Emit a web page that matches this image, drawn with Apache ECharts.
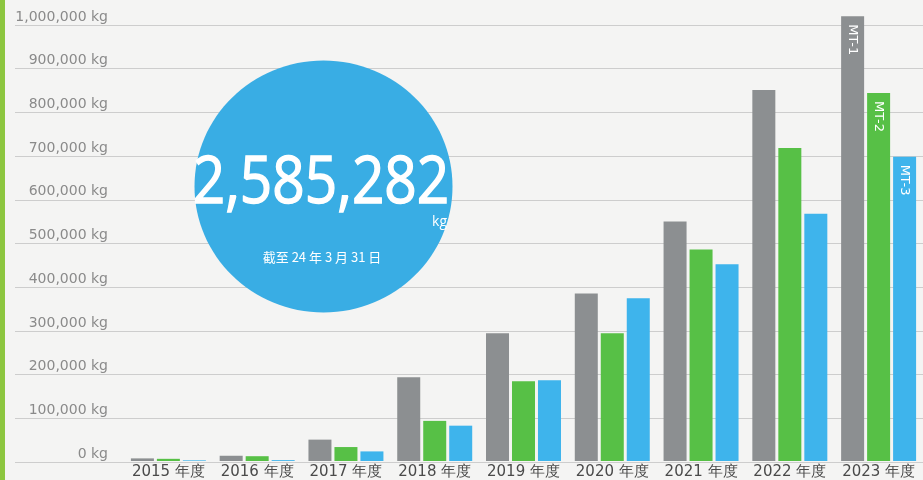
<!DOCTYPE html>
<html>
<head>
<meta charset="utf-8">
<script src="https://cdn.jsdelivr.net/npm/echarts@6/dist/echarts.min.js"></script>
<style>
html,body{margin:0;padding:0;background:#f4f4f3;}
#c{width:923px;height:480px;}
</style>
</head>
<body>
<div id="c"></div>
<script>
const categories = ['2015 年度','2016 年度','2017 年度','2018 年度','2019 年度','2020 年度','2021 年度','2022 年度','2023 年度'];
const seriesNames = ['MT-1','MT-2','MT-3'];
const mt1 = [6000, 12000, 49000, 192000, 293000, 384000, 549000, 851000, 1020000];
const mt2 = [5000, 11000, 32000, 92000, 183000, 293000, 485000, 718000, 844000];
const mt3 = [1500, 2000, 22000, 81000, 185000, 373000, 451000, 567000, 698000];
const yTicks = [0, 100000, 200000, 300000, 400000, 500000, 600000, 700000, 800000, 900000, 1000000];
const totalText = '2,585,282';
const totalUnit = 'kg';
const asOfText = '截至 24 年 3 月 31 日';

const colors = ['#8c8f91', '#57c046', '#3eb4ec'];
const chart = echarts.init(document.getElementById('c'));

function withLastLabel(arr, name) {
  return arr.map((v, i) => i === arr.length - 1 ? {
    value: v,
    label: {
      show: true, formatter: name, position: 'insideTop', distance: 8,
      rotate: -90, align: 'left', verticalAlign: 'middle',
      color: '#ffffff', fontSize: 13, fontFamily: 'DejaVu Sans'
    }
  } : v);
}
const seriesData = [mt1, mt2, mt3];
const yMax = yTicks[yTicks.length-1];
const yStep = yTicks[1]-yTicks[0];
// bar grid extends half a step above the top gridline, same scale
const gridTop = 25, gridBottom = 18;
const pxPerUnit = (480 - gridTop - gridBottom) / yMax;
const barMax = yMax + yStep / 2;

chart.setOption({
  backgroundColor: '#f4f4f3',
  animation: false,
  grid: [
    {left: 15, right: 0, top: gridTop, bottom: gridBottom},
    {left: 124, width: 801, top: gridTop - (yStep / 2) * pxPerUnit, bottom: gridBottom}
  ],
  xAxis: [
    {gridIndex: 0, type: 'value', show: false},
    {gridIndex: 1, type: 'category', data: categories,
     axisLine: {show: false}, axisTick: {show: false},
     axisLabel: {interval: 0, hideOverlap: false, color: '#4a4a4a', fontSize: 15, fontFamily: 'DejaVu Sans', margin: 4}}
  ],
  yAxis: [
    {gridIndex: 0, type: 'value', min: yTicks[0], max: yMax, interval: yStep,
     axisLine: {show: false}, axisTick: {show: false},
     splitLine: {lineStyle: {color: '#cdcdcd', width: 1}},
     axisLabel: {inside: true, align: 'right', verticalAlign: 'bottom', margin: 93,
       color: '#8a8a8a', fontSize: 14, fontFamily: 'DejaVu Sans', padding: [0,0,1,0],
       formatter: v => v.toLocaleString('en-US') + ' kg'}},
    {gridIndex: 1, type: 'value', min: yTicks[0], max: barMax, show: false, splitLine: {show: false}}
  ],
  series: seriesNames.map((n, i) => ({
    name: n, type: 'bar', xAxisIndex: 1, yAxisIndex: 1,
    barWidth: 23, barGap: '13%',
    itemStyle: {color: colors[i]},
    data: withLastLabel(seriesData[i], n)
  })),
  graphic: [
    {type: 'rect', left: 0, top: 0, shape: {width: 5, height: 480}, style: {fill: '#8cc63f'}},
    {type: 'ellipse', shape: {cx: 323.5, cy: 186.5, rx: 129, ry: 126}, style: {fill: '#39ade4'}, z: 100},
    {type: 'text', x: 321, y: 184, scaleX: 0.86, z: 101,
     style: {text: totalText, x: 0, y: 0, align: 'center', verticalAlign: 'middle',
       fill: '#ffffff', stroke: '#ffffff', lineWidth: 1.4, font: '66px "Open Sans"'}},
    {type: 'text', x: 447, y: 222, z: 101,
     style: {text: totalUnit, align: 'right', verticalAlign: 'middle', fill: '#ffffff', font: '14px "Open Sans"'}},
    {type: 'text', x: 322, y: 257, z: 101,
     style: {text: asOfText, align: 'center', verticalAlign: 'middle', fill: '#ffffff', font: '13px "Noto Sans CJK SC"'}}
  ]
});
</script>
</body>
</html>
